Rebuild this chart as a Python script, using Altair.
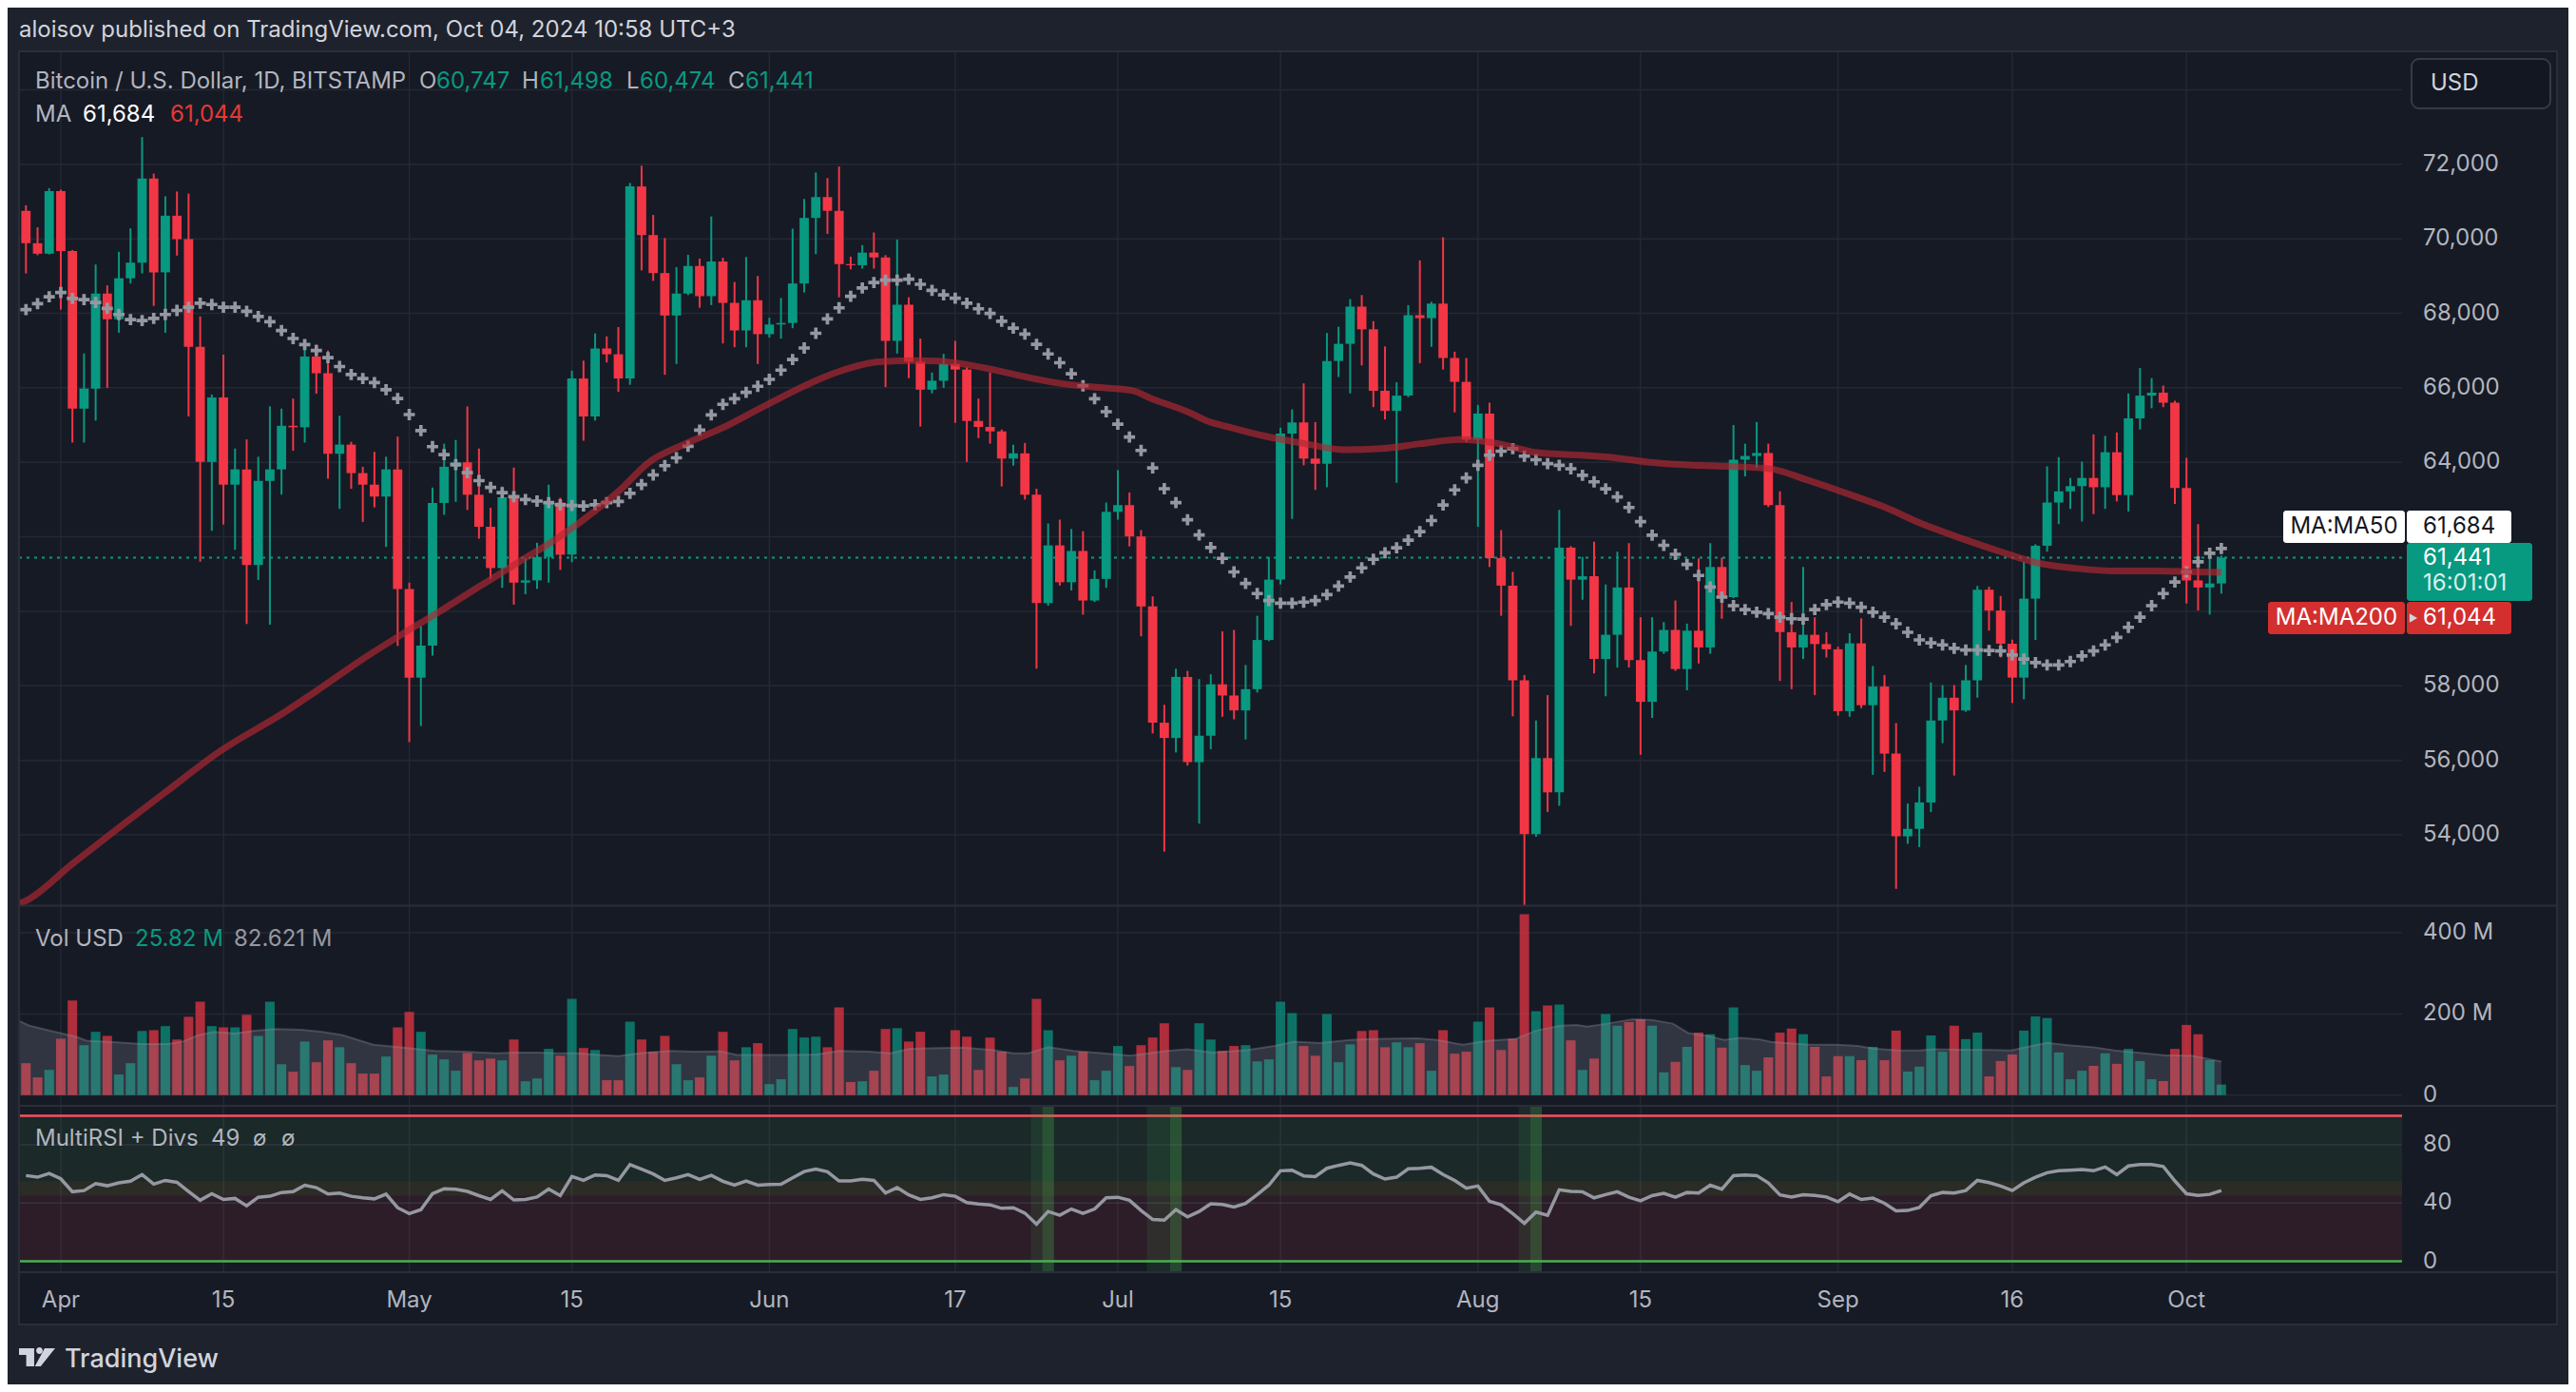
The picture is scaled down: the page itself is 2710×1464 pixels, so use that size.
import altair as alt
import pandas as pd

# ---------------- data ----------------
START = "2024-03-29"

opens = [70750, 69880, 69600, 71280, 69670, 65440, 65980, 68530, 67840, 68940,
         69360, 71620, 69100, 70620, 69990, 67100, 64010, 65740, 63400, 63810,
         61240, 63500, 63810, 64980, 64940, 66840, 66390, 64230, 64475, 63710,
         63400, 63080, 63810, 60600, 58220, 59080, 62910, 63880, 64000, 63130,
         62270, 61160, 63060, 60770, 60830, 61460, 62920, 61520, 66250, 65230,
         67055, 66900, 66250, 71405, 70100, 69080, 67940, 68530, 69270, 68460,
         69390, 68280, 67540, 68350, 67440, 67700, 67740, 68800, 70560, 71120,
         70750, 69320, 69290, 69630, 69500, 67260, 68230, 66700, 65950, 66190,
         66640, 66490, 65110, 64950, 64830, 64100, 64240, 63130, 60220, 61770,
         60780, 61620, 60290, 60870, 62670, 62850, 62010, 60130, 57010, 56600,
         58240, 55950, 56660, 58040, 57740, 57340, 57910, 59230, 60850, 64770,
         65070, 64100, 63960, 66720, 67180, 68180, 67570, 65920, 65380, 65790,
         67950, 67870, 68260, 66800, 66160, 64610, 65310, 61430, 60690, 58150,
         54020, 56060, 55140, 61710, 60850, 60940, 58720, 59370, 60640, 58690,
         57570, 58920, 59500, 58450, 59480, 59030, 61190, 60380, 64070, 64170,
         64250, 62850, 59440, 59030, 59370, 59120, 58980, 57320, 59140, 57480,
         57980, 56180, 53960, 54160, 54870, 57070, 57680, 57340, 58150, 60580,
         60020, 59130, 58220, 60340, 61760, 62920, 63220, 63360, 63580, 63330,
         64270, 63120, 65180, 65790, 65870, 65600, 63310, 60830, 60640, 60747]
highs = [70900, 70310, 71360, 71320, 69700, 66920, 69310, 68750, 69650, 70280,
         72730, 71750, 71140, 71270, 71215, 67915, 65820, 66890, 64370, 64615,
         64150, 65500, 65440, 65710, 67240, 67160, 67000, 65250, 64550, 63880,
         64280, 64150, 64690, 60770, 59600, 63320, 64500, 64600, 65500, 64370,
         62780, 63350, 63860, 61430, 61840, 63400, 63050, 66460, 66730, 67460,
         67380, 67630, 71500, 71960, 70640, 70020, 69240, 69570, 69470, 70600,
         69490, 68840, 69510, 69000, 67880, 68410, 70270, 71070, 71780, 71630,
         71940, 69520, 69830, 70170, 69560, 69980, 68430, 67320, 66410, 66910,
         67260, 66550, 65710, 66410, 64880, 64470, 64520, 63290, 62360, 62460,
         62210, 62150, 61100, 62920, 63790, 63190, 62180, 60400, 57490, 58460,
         58400, 58180, 58310, 59460, 59500, 58560, 59880, 61460, 64930, 65420,
         66120, 65080, 67470, 67640, 68380, 68490, 67790, 67110, 66150, 68220,
         69420, 68310, 70040, 66970, 66800, 65540, 65600, 62180, 61060, 58290,
         57070, 57750, 62720, 61750, 61460, 61870, 60720, 61600, 61830, 59840,
         59840, 59710, 60290, 59670, 61420, 61830, 61440, 65000, 64500, 65080,
         64500, 63220, 60250, 61190, 59840, 59440, 59050, 59410, 59810, 58530,
         58290, 57000, 54840, 55290, 58090, 58020, 58020, 58560, 60680, 60660,
         60410, 59240, 61330, 61800, 63890, 64140, 63580, 64020, 64750, 64710,
         64800, 65850, 66530, 66260, 66060, 65650, 64120, 62340, 61460, 61498]
lows = [69070, 69560, 69580, 68100, 64530, 64530, 65120, 66000, 67480, 68800,
        69070, 68200, 67480, 69550, 65230, 61330, 62160, 62330, 61650, 59660,
        60840, 59640, 63130, 64310, 64530, 65840, 63560, 62750, 63290, 62400,
        62790, 61730, 59070, 56490, 56920, 58810, 62590, 62940, 62720, 61950,
        60870, 60630, 60180, 60460, 60600, 60770, 61110, 61320, 64580, 65120,
        66680, 65890, 66080, 69150, 68870, 66350, 66640, 68490, 68150, 68220,
        67190, 67090, 67090, 66640, 67350, 67320, 67600, 68560, 69590, 70130,
        68430, 69180, 69200, 69200, 66020, 66920, 66260, 64960, 65850, 66000,
        65060, 64010, 64650, 64500, 63350, 63910, 63000, 58460, 60150, 60690,
        60560, 59910, 60250, 60630, 62460, 61740, 59330, 56720, 53550, 56210,
        55860, 54300, 56300, 57170, 57100, 56560, 57820, 59200, 60720, 62480,
        63920, 63260, 63330, 66290, 65850, 66600, 65480, 65150, 63450, 65750,
        66660, 67100, 66490, 65340, 64550, 62270, 61190, 59880, 57180, 49100,
        53950, 54610, 54780, 59610, 60310, 58330, 57720, 58490, 58490, 56150,
        57140, 58860, 58400, 57880, 58600, 58860, 59800, 60350, 63620, 63850,
        62800, 58130, 57910, 58720, 57750, 58760, 57200, 57170, 57400, 55610,
        55690, 52550, 53760, 53670, 54610, 56460, 55590, 57300, 57680, 59480,
        58760, 57540, 57640, 59230, 61600, 62340, 62750, 62410, 62610, 62750,
        62950, 62680, 64880, 65450, 65480, 62880, 60210, 60020, 59910, 60474]
closes = [69880, 69600, 71280, 69670, 65440, 65980, 68530, 67840, 68940, 69360,
          71620, 69100, 70620, 69990, 67100, 64010, 65740, 63400, 63810, 61240,
          63500, 63810, 64980, 64940, 66840, 66390, 64230, 64475, 63710, 63400,
          63080, 63810, 60600, 58220, 59080, 62910, 63880, 64000, 63130, 62270,
          61160, 63060, 60770, 60830, 61460, 62920, 61520, 66250, 65230, 67055,
          66900, 66250, 71405, 70100, 69080, 67940, 68530, 69270, 68460, 69390,
          68280, 67540, 68350, 67440, 67700, 67740, 68800, 70560, 71120, 70750,
          69320, 69290, 69630, 69500, 67260, 68230, 66700, 65950, 66190, 66640,
          66490, 65110, 64950, 64830, 64100, 64240, 63130, 60220, 61770, 60780,
          61620, 60290, 60870, 62670, 62850, 62010, 60130, 57010, 56600, 58240,
          55950, 56660, 58040, 57740, 57340, 57910, 59230, 60850, 64770, 65070,
          64100, 63960, 66720, 67180, 68180, 67570, 65920, 65380, 65790, 67950,
          67870, 68260, 66800, 66160, 64610, 65310, 61430, 60690, 58150, 54020,
          56060, 55140, 61710, 60850, 60940, 58720, 59370, 60640, 58690, 57570,
          58920, 59500, 58450, 59480, 59030, 61190, 60380, 64070, 64170, 64250,
          62850, 59440, 59030, 59370, 59120, 58980, 57320, 59140, 57480, 57980,
          56180, 53960, 54160, 54870, 57070, 57680, 57340, 58150, 60580, 60020,
          59130, 58220, 60340, 61760, 62920, 63220, 63360, 63580, 63330, 64270,
          63120, 65180, 65790, 65870, 65600, 63310, 60830, 60640, 60747, 61441]
volume_m = [78.6, 43.6, 62.2, 139, 233, 123, 156, 146, 50.6, 78.6,
            158, 160, 170, 137, 193, 230, 170, 167, 167, 198,
            146, 230, 76, 57.6, 132, 81, 135, 118, 78.6, 53,
            53, 95, 167, 205, 156, 99.6, 88, 60, 104, 85.6,
            90, 85.6, 137, 34, 41, 114, 97, 237, 116, 111,
            36.6, 36.6, 181, 137, 107, 146, 76, 36.6, 43.6, 97,
            156, 85.6, 118, 128, 27, 39, 163, 142, 144, 118,
            216, 32, 34, 60, 163, 165, 132, 156, 46, 50.6,
            160, 144, 62, 142, 107, 20, 41, 237, 160, 85.6,
            97, 107, 36.6, 60, 121, 71.6, 123, 142, 177, 69,
            62, 177, 137, 109, 121, 123, 83, 88, 230, 202,
            121, 97, 200, 81, 125, 158, 160, 118, 130, 118,
            128, 60, 160, 102, 107, 181, 216, 111, 139, 446,
            207, 221, 223, 135, 62, 90, 200, 171, 180, 187,
            171, 56, 82, 119, 154, 150, 117, 216, 74, 60,
            93, 154, 164, 150, 119, 46, 96, 96, 86, 119,
            86, 159, 58, 70, 147, 107, 171, 138, 154, 46,
            84, 100, 159, 194, 190, 105, 39, 60, 72, 103,
            77, 114, 84, 39, 34.5, 114, 173, 150, 86, 25.82]
ma50 = [68098, 68259, 68442, 68560, 68399, 68366, 68291, 68130, 67968, 67829,
        67807, 67861, 67968, 68076, 68162, 68270, 68237, 68162, 68162, 68055,
        67915, 67775, 67539, 67324, 67162, 67001, 66808, 66571, 66356, 66249,
        66141, 65948, 65711, 65281, 64851, 64421, 64206, 63937, 63722, 63507,
        63325, 63185, 63077, 63002, 62959, 62916, 62862, 62841, 62830, 62862,
        62916, 62950, 63166, 63401, 63661, 63909, 64120, 64430, 64863, 65272,
        65557, 65706, 65879, 66040, 66226, 66474, 66759, 67069, 67465, 67849,
        68147, 68456, 68679, 68828, 68890, 68890, 68915, 68779, 68617, 68494,
        68407, 68271, 68122, 67998, 67787, 67601, 67440, 67168, 66908, 66672,
        66375, 66053, 65706, 65359, 65024, 64677, 64318, 63847, 63290, 62918,
        62460, 62051, 61710, 61422, 61057, 60746, 60476, 60287, 60219, 60219,
        60246, 60287, 60449, 60678, 60922, 61165, 61395, 61570, 61705, 61908,
        62138, 62435, 62854, 63259, 63583, 63921, 64191, 64299, 64367, 64164,
        64070, 63962, 63921, 63827, 63651, 63475, 63286, 63070, 62786, 62408,
        62043, 61773, 61530, 61260, 60962, 60652, 60381, 60152, 60044, 59976,
        59936, 59841, 59800, 59790, 60044, 60179, 60246, 60219, 60111, 59976,
        59841, 59666, 59436, 59233, 59152, 59098, 59004, 58963, 58963, 58950,
        58936, 58828, 58720, 58625, 58558, 58558, 58652, 58801, 58936, 59098,
        59301, 59571, 59841, 60152, 60476, 60787, 61057, 61327, 61557, 61684]
rsi = [58.9, 57.8, 60.4, 56.7, 47.8, 48.6, 53.4, 51.9, 53.9, 55.0,
       59.6, 53.0, 55.6, 54.3, 48.0, 41.9, 46.4, 42.5, 43.2, 38.1,
       44.0, 44.7, 47.3, 47.8, 52.3, 50.6, 46.2, 46.9, 44.7, 43.6,
       42.9, 46.2, 36.8, 32.7, 35.5, 46.4, 49.9, 49.5, 48.0, 45.1,
       42.5, 48.4, 42.1, 42.5, 44.2, 49.7, 45.1, 58.2, 55.6, 59.3,
       58.9, 55.6, 66.5, 63.3, 60.0, 55.6, 57.4, 59.6, 56.3, 59.1,
       55.0, 52.3, 55.2, 52.3, 52.8, 53.0, 57.4, 61.7, 63.3, 61.5,
       55.2, 55.2, 56.3, 55.6, 46.9, 50.6, 45.6, 42.5, 43.6, 45.8,
       44.7, 40.3, 39.4, 38.8, 36.4, 36.8, 33.1, 25.5, 34.2, 31.6,
       35.9, 32.9, 35.9, 43.6, 44.0, 41.9, 34.9, 28.7, 28.3, 35.5,
       30.5, 34.2, 39.5, 39.0, 37.3, 39.7, 45.8, 52.3, 62.2, 62.6,
       58.7, 58.2, 63.9, 65.9, 67.6, 65.9, 60.0, 56.5, 57.8, 63.5,
       63.9, 64.6, 59.6, 55.6, 50.2, 51.7, 41.2, 38.8, 32.7, 26.1,
       33.8, 31.6, 49.1, 48.0, 47.8, 43.6, 45.8, 47.8, 44.0, 41.6,
       45.1, 46.7, 44.0, 47.3, 46.9, 52.3, 49.5, 58.9, 59.3, 58.9,
       53.9, 45.6, 44.2, 45.8, 45.3, 44.2, 41.0, 46.2, 42.5, 43.4,
       39.9, 34.6, 34.9, 37.0, 45.1, 47.3, 46.9, 48.6, 55.6, 54.1,
       51.7, 48.6, 53.9, 57.8, 60.9, 62.2, 62.6, 63.1, 62.2, 64.8,
       59.6, 65.5, 66.5, 66.5, 65.2, 55.2, 46.4, 45.3, 46.0, 48.6]
# MA200 read at points along the curve (day offset from START, value)
ma200_day = [-1, 0, 4, 8, 12, 16.7, 22.3, 25, 29, 32.3, 35.7, 39, 42.3, 45.7, 49,
             51.3, 53.5, 56.8, 60.2, 63.4, 66.8, 68.5, 70.1, 73.5, 76.8, 78.5,
             80.2, 83.5, 85.2, 88.6, 91.9, 95.2, 96.9, 100.2, 101.7, 103.4,
             106.7, 110.1, 113.4, 116.7, 120.1, 123.4, 126.8, 130.1, 133.4,
             136.8, 140.1, 143.5, 146.8, 150.1, 153.3, 156.6, 159.9, 163.3,
             166.6, 170, 173.3, 176.6, 180, 183.3, 186.6, 189]
ma200_val = [51980, 52230, 53220, 54190, 55140, 56240, 57300, 57860, 58720, 59370,
             60010, 60660, 61300, 61950, 62700, 63300, 63970, 64500, 64960, 65480,
             66020, 66260, 66450, 66700, 66730, 66720, 66660, 66470, 66350, 66140,
             66020, 65930, 65710, 65330, 65110, 64960, 64700, 64500, 64340, 64370,
             64500, 64610, 64500, 64260, 64200, 64120, 63990, 63920, 63890, 63830,
             63530, 63180, 62810, 62340, 61960, 61600, 61290, 61150, 61080, 61080,
             61060, 61044]
# volume moving average (millions) read at points along its edge
vol_ma_day = [-0.6, 0.3, 2.5, 4.3, 5.2, 7.8, 10, 12.2, 13.5, 14.9, 16.2, 18, 19.7,
              21.5, 23.7, 25.5, 27.2, 29.9, 32.5, 35.2, 37.8, 40.4, 42.2, 44, 45.7,
              47.5, 49.3, 51, 52.8, 55.4, 57.6, 59.8, 61.2, 63.4, 66, 68.1, 70,
              72.6, 74.4, 76.1, 80.6, 83.2, 85, 86.3, 88, 90.2, 92, 95.1, 98.2,
              100, 102.2, 105.2, 107.5, 109.2, 111.4, 114, 115.8, 119.8, 121.5,
              123.7, 125.9, 128.2, 130, 132.1, 133.5, 134.4, 136.1, 138.3, 140,
              141.8, 143.1, 144.9, 146.2, 147.6, 149.3, 150.2, 153.3, 155.9,
              157.7, 159, 161.2, 163, 164.3, 166.5, 169.2, 170.9, 172.7, 174,
              175.8, 178, 179.8, 182.4, 184.2, 186.4, 187.7, 189]
vol_ma_val = [183, 171, 156, 144, 134, 130, 126, 126, 132, 148, 156, 152, 159,
              163, 161, 156, 148, 124, 117, 109, 107, 103, 105, 105, 103,
              103, 99, 96, 103, 109, 107, 108, 99, 99, 99, 100, 109,
              107, 103, 114, 117, 111, 103, 103, 118, 109, 105, 97, 109,
              113, 105, 111, 121, 132, 128, 136, 138, 140, 136,
              124, 134, 138, 159, 171, 173, 169, 176, 187, 185,
              176, 153, 145, 136, 141, 137, 131, 125, 124,
              121, 115, 110, 110, 113, 112, 111, 110, 121, 129,
              123, 118, 110, 103, 98, 97, 90, 82.621]
rsi_mark_strong = [88, 99, 130]
rsi_mark_soft = [87, 97, 98, 129]
date_ticks = ["2024-04-01", "2024-04-15", "2024-05-01", "2024-05-15", "2024-06-01",
              "2024-06-17", "2024-07-01", "2024-07-15", "2024-08-01", "2024-08-15",
              "2024-09-01", "2024-09-16", "2024-10-01"]
date_tick_text = ["Apr", "15", "May", "15", "Jun", "17", "Jul", "15", "Aug", "15",
                  "Sep", "16", "Oct"]
price_grid = [54000, 56000, 58000, 60000, 62000, 64000, 66000, 68000, 70000, 72000, 74000]
price_labelled = [54000, 56000, 58000, 64000, 66000, 68000, 70000, 72000]
vol_ticks = [0, 200, 400]
vol_tick_text = ["0", "200 M", "400 M"]
rsi_ticks = [0, 40, 80]

# ---------------- style / layout ----------------
FONT = "Inter"
BG = "#161a25"
OUTER = "#1e222d"
GRID = "#242834"
TXT = "#b2b5be"
GREEN = "#089981"
RED = "#f23645"
OX, OY = 20, 54          # view origin in page pixels
W, H = 2507, 1284
STEP = 12.22             # pixels per day


def px(X):
    return X - OX


def py(Y):
    return Y - OY


def utc(s):
    y, m, d = (int(v) for v in s.split("-"))
    return alt.DateTime(year=y, month=m, date=d, utc=True)


t0 = pd.Timestamp(START)


def iso(k):
    return (t0 + pd.to_timedelta(k, unit="D")).strftime("%Y-%m-%dT%H:%M:%SZ")


n = len(closes)
END = (t0 + pd.Timedelta(days=n - 1)).strftime("%Y-%m-%d")

df = pd.DataFrame({
    "date": [iso(i) for i in range(n)],
    "open": opens, "high": highs, "low": lows, "close": closes,
    "vol": volume_m, "ma50": ma50, "rsi": rsi,
    "dir": ["up" if c >= o else "down" for o, c in zip(opens, closes)],
})
ma200_df = pd.DataFrame({"date": [iso(k) for k in ma200_day], "v": ma200_val})
vma_df = pd.DataFrame({"date": [iso(k) for k in vol_ma_day], "v": vol_ma_val})
strong_df = pd.DataFrame({"date": [iso(k) for k in rsi_mark_strong]})
soft_df = pd.DataFrame({"date": [iso(k) for k in rsi_mark_soft]})
dtick_df = pd.DataFrame({"date": [d + "T00:00:00Z" for d in date_ticks], "t": date_tick_text})
vtick_df = pd.DataFrame({"v": vol_ticks, "t": vol_tick_text})
rtick_df = pd.DataFrame({"v": rsi_ticks, "t": [str(v) for v in rsi_ticks]})
rgrid_df = pd.DataFrame({"v": [v for v in rsi_ticks if v > 0]})
pgrid_df = pd.DataFrame({"v": price_grid})
plab_df = pd.DataFrame({"v": price_labelled, "t": [f"{v:,}" for v in price_labelled]})
ONE = pd.DataFrame({"k": [0]})

x_scale = alt.Scale(type="utc", domain=[utc(START), utc(END)],
                    range=[7.3, 7.3 + STEP * (n - 1)], nice=False)


def XE():
    return alt.X("date:T", scale=x_scale, axis=None)


X2 = alt.X2("date:T")
COLOR = alt.Color("dir:N", scale=alt.Scale(domain=["up", "down"], range=[GREEN, RED]), legend=None)

price_scale = alt.Scale(domain=[52111, 75032], range=[898, 0], clamp=True, nice=False, zero=False)
vol_scale = alt.Scale(domain=[0, 200], range=[1097.7, 1012.4], nice=False, zero=False)
rsi_scale = alt.Scale(domain=[0, 100], range=[1272.5, 1119.5], nice=False, zero=False)


def PY(f):
    return alt.Y(f"{f}:Q", scale=price_scale, axis=None)


def PD(v):
    return alt.YDatum(v, type="quantitative", scale=price_scale, axis=None)


def VY(f):
    return alt.Y(f"{f}:Q", scale=vol_scale, axis=None, stack=False)


def RY(f):
    return alt.Y(f"{f}:Q", scale=rsi_scale, axis=None)


def RD(v):
    return alt.YDatum(v, type="quantitative", scale=rsi_scale, axis=None)


def box(x1, y1, x2, y2, **kw):
    return alt.Chart(ONE).mark_rect(**kw).encode(
        x=alt.value(px(x1)), x2=alt.value(px(x2)), y=alt.value(py(y1)), y2=alt.value(py(y2)))


def hline(y, x1, x2, color, width=2):
    return alt.Chart(ONE).mark_rule(color=color, strokeWidth=width).encode(
        x=alt.value(px(x1)), x2=alt.value(px(x2)), y=alt.value(py(y)))


def txt(x, y, s, color=TXT, size=24, align="left", baseline="alphabetic", weight="normal"):
    return alt.Chart(ONE).mark_text(align=align, baseline=baseline, font=FONT, fontSize=size,
                                    color=color, fontWeight=weight).encode(
        x=alt.value(px(x)), y=alt.value(py(y)), text=alt.value(s))


# ---------------- outer frame ----------------
frame = [
    box(8, 8, 2702, 54, fill=OUTER),
    box(8, 1393, 2702, 1456, fill=OUTER),
    box(8, 54, 20, 1393, fill=OUTER),
    box(2690, 54, 2702, 1393, fill=OUTER),
]

# ---------------- grid + axis labels (drawn through the scales) ----------------
vgrid = alt.Chart(dtick_df).mark_rule(color=GRID, strokeWidth=1.5).encode(
    x=XE(), y=alt.value(0), y2=alt.value(H))
date_labels = alt.Chart(dtick_df).mark_text(align="center", baseline="middle", font=FONT,
                                            fontSize=24, color=TXT).encode(
    x=XE(), y=alt.value(py(1368)), text="t:N")
pgrid = alt.Chart(pgrid_df).mark_rule(color=GRID, strokeWidth=1.5).encode(
    x=alt.value(0), x2=alt.value(W), y=PY("v"))
price_labels = alt.Chart(plab_df).mark_text(align="left", baseline="middle", font=FONT,
                                            fontSize=24, color=TXT).encode(
    x=alt.value(px(2549)), y=PY("v"), text="t:N")

# ---------------- RSI pane ----------------
rsi_bands = [
    alt.Chart(ONE).mark_rect(color=c, opacity=o).encode(
        x=alt.value(0), x2=alt.value(W), y=RD(hi), y2=alt.Y2Datum(lo))
    for lo, hi, c, o in [(55, 100, "#4caf50", 0.10), (45, 55, "#ffeb3b", 0.09), (0, 45, RED, 0.10)]
]
rsi_grid = alt.Chart(rgrid_df).mark_rule(color="#323643", strokeWidth=1.5).encode(
    x=alt.value(0), x2=alt.value(W), y=RY("v"))
rsi_top = alt.Chart(ONE).mark_rule(color="#f7525f", strokeWidth=2.5).encode(
    x=alt.value(0), x2=alt.value(W), y=RD(100))
rsi_bot = alt.Chart(ONE).mark_rule(color="#4caf50", strokeWidth=2.5).encode(
    x=alt.value(0), x2=alt.value(W), y=RD(0))
rsi_soft = alt.Chart(soft_df).mark_rect(color="#4caf50", opacity=0.12, xOffset=-6.1, x2Offset=6.1).encode(
    x=XE(), x2=X2, y=alt.value(py(1163)), y2=alt.value(py(1338)))
rsi_strong = alt.Chart(strong_df).mark_rect(color="#4caf50", opacity=0.3, xOffset=-6.1, x2Offset=6.1).encode(
    x=XE(), x2=X2, y=alt.value(py(1163)), y2=alt.value(py(1338)))
rsi_line = alt.Chart(df).mark_line(color="#9598a1", strokeWidth=3.5).encode(x=XE(), y=RY("rsi"))
rsi_labels = alt.Chart(rtick_df).mark_text(align="left", baseline="middle", font=FONT, fontSize=24,
                                           color=TXT).encode(
    x=alt.value(px(2549)), y=RY("v"), text="t:N")

# ---------------- volume pane ----------------
vol_grid = alt.Chart(vtick_df).mark_rule(color=GRID, strokeWidth=1.5).encode(
    x=alt.value(0), x2=alt.value(W), y=VY("v"))
vol_bars = alt.Chart(df).mark_bar(opacity=0.7, xOffset=-5, x2Offset=5).encode(
    x=XE(), x2=X2, y=VY("vol"), y2=alt.Y2Datum(0), color=COLOR)
vol_area = alt.Chart(vma_df).mark_area(color="#8c8f9a", opacity=0.24, clip=True).encode(
    x=XE(), y=VY("v"), y2=alt.Y2Datum(0))
vol_edge = alt.Chart(vma_df).mark_line(color="#8c8f9a", opacity=0.35, strokeWidth=2, clip=True).encode(
    x=XE(), y=VY("v"))
vol_labels = alt.Chart(vtick_df).mark_text(align="left", baseline="middle", font=FONT, fontSize=24,
                                           color=TXT).encode(
    x=alt.value(px(2549)), y=VY("v"), text="t:N")

# ---------------- price pane ----------------
PLUS = "M-0.31,-1H0.31V-0.31H1V0.31H0.31V1H-0.31V0.31H-1V-0.31H-0.31Z"
last_line = alt.Chart(ONE).mark_rule(color=GREEN, strokeWidth=2, strokeDash=[3, 5]).encode(
    x=alt.value(0), x2=alt.value(W), y=PD(closes[-1]))
wicks = alt.Chart(df).mark_rule(strokeWidth=2).encode(
    x=XE(), y=PY("low"), y2=alt.Y2("high:Q"), color=COLOR)
bodies = alt.Chart(df).mark_bar(xOffset=-4.9, x2Offset=4.9).encode(
    x=XE(), x2=X2, y=PY("open"), y2=alt.Y2("close:Q"), color=COLOR)
ma50_pts = alt.Chart(df).mark_point(shape=PLUS, size=140, filled=True, color="#9598a1",
                                    opacity=1, strokeWidth=0).encode(x=XE(), y=PY("ma50"))
ma200_line = alt.Chart(ma200_df).mark_line(color="#b22833", opacity=0.67, strokeWidth=7,
                                           interpolate="monotone", clip=True).encode(
    x=XE(), y=PY("v"))


def pbox(val, o1, o2, x1, x2, fill):
    return alt.Chart(ONE).mark_rect(fill=fill, yOffset=o1, y2Offset=o2, cornerRadius=3).encode(
        x=alt.value(px(x1)), x2=alt.value(px(x2)), y=PD(val), y2=alt.Y2Datum(val))


def ptxt(val, off, x, s, color, align="left"):
    return alt.Chart(ONE).mark_text(align=align, baseline="middle", yOffset=off, font=FONT,
                                    fontSize=24, color=color).encode(
        x=alt.value(px(x)), y=PD(val), text=alt.value(s))


m50 = ma50[-1]
m200 = ma200_val[-1]
cur = closes[-1]
tags = [
    pbox(m50, -40, -6, 2402, 2530, "#ffffff"),
    pbox(m50, -40, -6, 2532, 2642, "#ffffff"),
    ptxt(m50, -23, 2466, "MA:MA50", "#131722", align="center"),
    ptxt(m50, -23, 2549, f"{m50:,}", "#131722"),
    pbox(cur, -15.5, 45.5, 2532, 2664, GREEN),
    ptxt(cur, 0.5, 2549, f"{cur:,}", "#ffffff"),
    ptxt(cur, 27.5, 2549, "16:01:01", "#d8f0ea"),
    pbox(m200, 31, 65, 2386, 2530, "#d32f2f"),
    pbox(m200, 31, 65, 2532, 2642, "#d32f2f"),
    ptxt(m200, 48, 2458, "MA:MA200", "#ffffff", align="center"),
    ptxt(m200, 48, 2549, f"{m200:,}", "#ffffff"),
    alt.Chart(ONE).mark_point(shape="triangle-right", size=90, filled=True, color="#d1d4dc",
                              opacity=1, strokeWidth=0, yOffset=48).encode(
        x=alt.value(px(2539)), y=PD(m200)),
]

# ---------------- separators, legends, badges ----------------
LOGO = ("M-1,-0.5H-0.16V0.5H-0.6V-0.13H-1Z M0.42,-0.5H1L0.2,0.5H-0.12Z "
        "M-0.05,-0.37A0.18,0.18 0 1,0 0.31,-0.37A0.18,0.18 0 1,0 -0.05,-0.37Z")
decor = [
    hline(952.5, 20, 2690, "#2a2e39"),
    hline(1163, 20, 2690, "#2a2e39"),
    hline(1338, 20, 2690, "#2a2e39"),
    alt.Chart(ONE).mark_rect(fillOpacity=0, stroke="#2a2e39", strokeWidth=2).encode(
        x=alt.value(px(20)), x2=alt.value(px(2690)), y=alt.value(py(54)), y2=alt.value(py(1393))),
    box(2537, 62, 2683, 114, fill="#131722", stroke="#363a45", strokeWidth=2, cornerRadius=8),
    txt(2557, 88, "USD", color="#d1d4dc", size=24, baseline="middle"),
    txt(20, 39, "aloisov published on TradingView.com, Oct 04, 2024 10:58 UTC+3", color="#d1d4dc"),
    txt(37, 93, "Bitcoin / U.S. Dollar, 1D, BITSTAMP"),
    txt(441, 93, "O"), txt(459, 93, f"{opens[-1]:,}", color=GREEN),
    txt(549, 93, "H"), txt(568, 93, f"{highs[-1]:,}", color=GREEN),
    txt(659, 93, "L"), txt(673, 93, f"{lows[-1]:,}", color=GREEN),
    txt(766, 93, "C"), txt(784, 93, f"{closes[-1]:,}", color=GREEN),
    txt(37, 128, "MA"), txt(87, 128, f"{m50:,}", color="#ffffff"),
    txt(179, 128, f"{m200:,}", color="#e53935"),
    txt(37, 995, "Vol USD"), txt(142, 995, f"{volume_m[-1]:.2f} M", color=GREEN),
    txt(246, 995, f"{vol_ma_val[-1]:.3f} M", color="#9598a1"),
    txt(37, 1205, "MultiRSI + Divs"), txt(222, 1205, f"{round(rsi[-1])}"),
    txt(266, 1205, "ø"), txt(296, 1205, "ø"),
    alt.Chart(ONE).mark_point(shape=LOGO, size=1444, filled=True, color="#d1d4dc",
                              opacity=1, strokeWidth=0).encode(
        x=alt.value(px(39)), y=alt.value(py(1427.5))),
    txt(68, 1430, "TradingView", color="#d1d4dc", size=27, baseline="middle", weight=500),
]

layers = (frame + [vgrid, pgrid, date_labels, price_labels]
          + rsi_bands + [rsi_grid, rsi_top, rsi_bot, rsi_soft, rsi_strong, rsi_line, rsi_labels]
          + [vol_grid, vol_bars, vol_area, vol_edge, vol_labels]
          + [last_line, wicks, bodies, ma50_pts, ma200_line] + tags + decor)

chart = alt.layer(*layers).resolve_scale(
    y="independent"
).properties(
    width=W, height=H, padding=0, background=BG
).configure(font=FONT).configure_view(stroke="transparent")

chart.save("out.html", embed_options={"renderer": "svg", "actions": False})
